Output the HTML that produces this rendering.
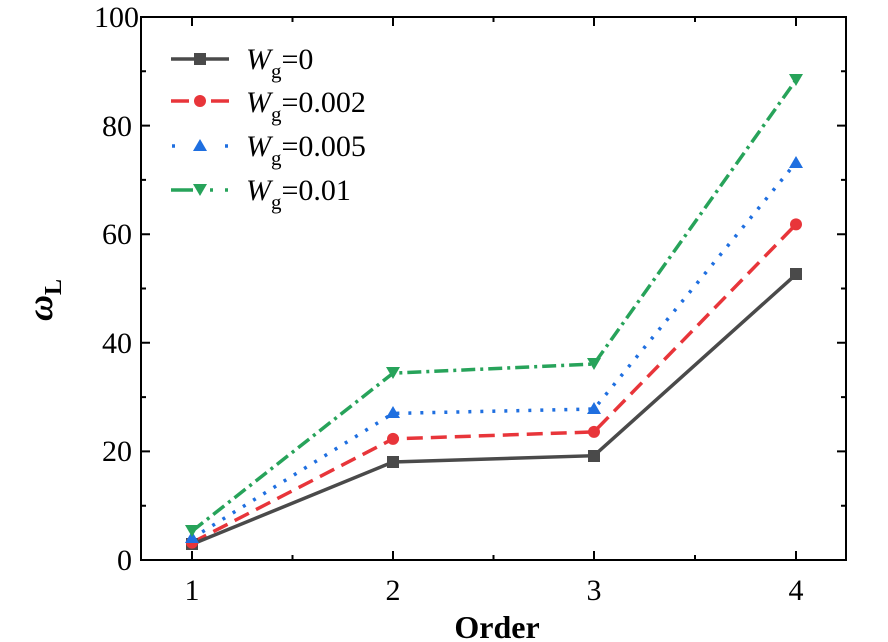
<!DOCTYPE html>
<html><head><style>body{margin:0;background:#fff}svg{display:block}text{font-family:"Liberation Serif",serif;fill:#000}</style></head><body>
<svg width="888" height="642" viewBox="0 0 888 642" xmlns="http://www.w3.org/2000/svg">
<g stroke="#000" stroke-width="2" fill="none">
<rect x="141" y="17" width="705" height="543"/>
<path d="M192 560v-9M393 560v-9M594 560v-9M796 560v-9M292.5 560v-5M493.5 560v-5M695 560v-5
M192 17v9M393 17v9M594 17v9M796 17v9M292.5 17v5M493.5 17v5M695 17v5"/>
<path d="M141 560h9M141 451.4h9M141 342.8h9M141 234.2h9M141 125.6h9M141 17h9
M141 505.7h5M141 397.1h5M141 288.5h5M141 179.9h5M141 71.3h5
M846 451.4h-9M846 342.8h-9M846 234.2h-9M846 125.6h-9
M846 505.7h-5M846 397.1h-5M846 288.5h-5M846 179.9h-5M846 71.3h-5"/>
</g>
<g font-size="30" text-anchor="end">
<text x="132" y="570">0</text><text x="132" y="461">20</text><text x="132" y="353">40</text>
<text x="132" y="244">60</text><text x="132" y="136">80</text><text x="139" y="27">100</text>
</g>
<g font-size="30" text-anchor="middle">
<text x="192" y="600">1</text><text x="393" y="600">2</text><text x="594" y="600">3</text><text x="796" y="600">4</text>
</g>
<text x="497" y="638" font-size="32" font-weight="bold" text-anchor="middle">Order</text>
<text transform="translate(52,300) rotate(-90)" font-size="36" font-weight="bold" font-style="italic" text-anchor="middle">ω<tspan font-style="normal" font-size="24" dy="9">L</tspan></text>
<g fill="none" stroke-width="3.5">
<polyline stroke="#27a35a" stroke-dasharray="14,5,3,5" points="192,531.2 393,373.2 594,364 796,80"/>
<polyline stroke="#1f6fe0" stroke-dasharray="3,9" points="192,538.3 393,413.4 594,409 796,162.5"/>
<polyline stroke="#e8353a" stroke-dasharray="16,8" points="192,542.6 393,438.9 594,431.9 796,224.4"/>
<polyline stroke="#4a4a4a" points="192,544.3 393,462 594,455.7 796,274.4"/>
</g>
<g fill="#4a4a4a"><rect x="186" y="538" width="12" height="12"/><rect x="387" y="456" width="12" height="12"/><rect x="588" y="450" width="12" height="12"/><rect x="790" y="268" width="12" height="12"/></g>
<g fill="#e8353a"><circle cx="192" cy="542.6" r="6"/><circle cx="393" cy="438.9" r="6"/><circle cx="594" cy="431.9" r="6"/><circle cx="796" cy="224.4" r="6"/></g>
<g fill="#1f6fe0"><path d="M192 531l7 12h-14z"/><path d="M393 406l7 12h-14z"/><path d="M594 402l7 12h-14z"/><path d="M796 156l7 12h-14z"/></g>
<g fill="#27a35a"><path d="M185 525h14l-7 12z"/><path d="M386 367h14l-7 12z"/><path d="M587 358h14l-7 12z"/><path d="M789 74h14l-7 12z"/></g>
<g stroke-width="3.5" fill="none">
<line x1="171" y1="59" x2="229" y2="59" stroke="#4a4a4a"/>
<path d="M171 101h18M211 101h18" stroke="#e8353a"/>
<path d="M172 146h3M225 146h3" stroke="#1f6fe0"/>
<path d="M171 190h22M210 190h3M225 190h3" stroke="#27a35a"/>
</g>
<rect x="194" y="53" width="12" height="12" fill="#4a4a4a"/>
<circle cx="200" cy="101" r="6" fill="#e8353a"/>
<path d="M200 139l7 12h-14z" fill="#1f6fe0"/>
<path d="M193 184h14l-7 12z" fill="#27a35a"/>
<g font-size="30">
<text x="246" y="69"><tspan font-style="italic">W</tspan><tspan font-size="21" dy="9">g</tspan><tspan dy="-9">=0</tspan></text>
<text x="246" y="112"><tspan font-style="italic">W</tspan><tspan font-size="21" dy="9">g</tspan><tspan dy="-9">=0.002</tspan></text>
<text x="246" y="156"><tspan font-style="italic">W</tspan><tspan font-size="21" dy="9">g</tspan><tspan dy="-9">=0.005</tspan></text>
<text x="246" y="200"><tspan font-style="italic">W</tspan><tspan font-size="21" dy="9">g</tspan><tspan dy="-9">=0.01</tspan></text>
</g>
</svg>
</body></html>
